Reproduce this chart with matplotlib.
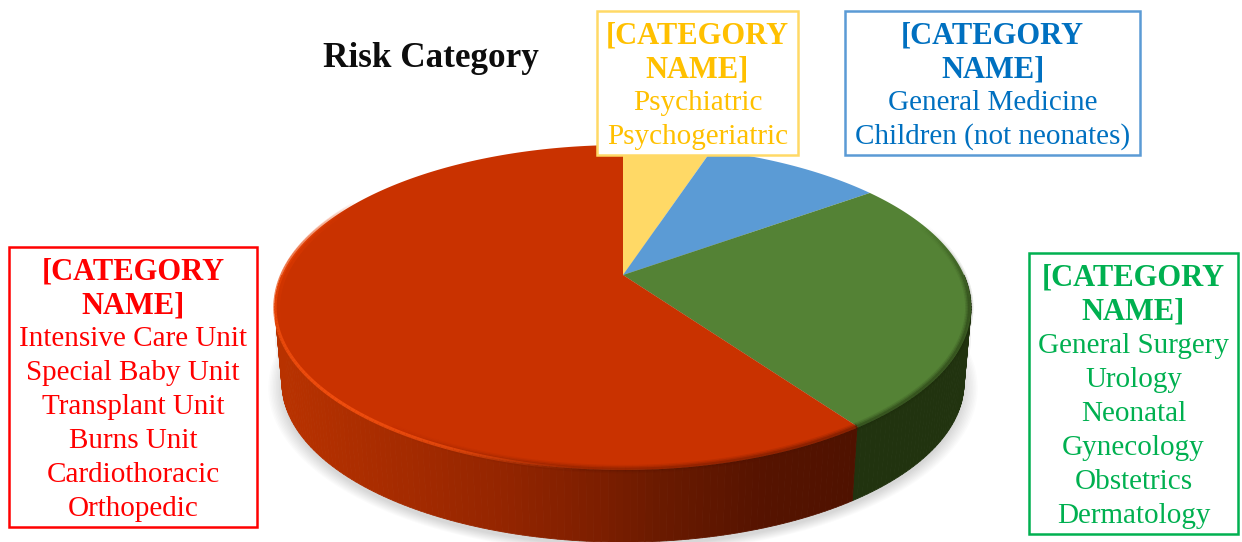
# Risk category pie, drawn as a tilted 3D disc
import numpy as np
import matplotlib
matplotlib.use('Agg')
import matplotlib.pyplot as plt
from matplotlib.collections import LineCollection
from matplotlib.patches import Rectangle

# Data
categories = ['Psychiatric', 'General', 'Surgical', 'Intensive']
shares = [5, 10, 25.2, 59.8]
top_colors = ['#FFD966', '#5B9BD5', '#548235', '#C93200']

title = 'Risk Category'
header = ['[CATEGORY', 'NAME]']
yellow_lines = ['Psychiatric', 'Psychogeriatric']
blue_lines = ['General Medicine', 'Children (not neonates)']
green_lines = ['General Surgery', 'Urology', 'Neonatal', 'Gynecology', 'Obstetrics', 'Dermatology']
red_lines = ['Intensive Care Unit', 'Special Baby Unit', 'Transplant Unit', 'Burns Unit',
             'Cardiothoracic', 'Orthopedic']

# Disc geometry in pixels
CX, CY = 623, 275
RX, RY = 341, 156
PERSP = 0.2
WALL = 76
FONT = 'Liberation Serif'


def rim(t, scale=1.0, dy=0.0):
    # t is degrees clockwise from north, returns picture coordinates
    u, v = np.sin(np.radians(t)), np.cos(np.radians(t))
    return (CX + scale * RX * u / (1 + PERSP * v),
            CY + dy - scale * RY * v / (1 + PERSP * v))


def rim_glow(start, stop, color, width, alpha_t, alpha_v, inset=1.0):
    # Edge line whose strength changes along the rim
    t = np.arange(start, stop + 1, 1.0)
    x, y = rim(t, inset)
    pts = np.column_stack([x, y])
    segs = np.stack([pts[:-1], pts[1:]], axis=1)
    rgba = np.tile(matplotlib.colors.to_rgba(color), (len(segs), 1))
    rgba[:, 3] = np.interp(t[:-1], alpha_t, alpha_v)
    ax.add_collection(LineCollection(segs, colors=rgba, linewidths=width, capstyle='butt', zorder=4))


fig = plt.figure(figsize=(12.42, 5.42), dpi=100)
ax = fig.add_axes([0, 0, 1, 1])
ax.set_xlim(0, 1242)
ax.set_ylim(542, 0)
ax.axis('off')

edges = np.cumsum([0] + shares) * 3.6
full = np.linspace(0, 360, 361)

# Soft shadow under the disc
for grow in np.linspace(1.0, 1.04, 10):
    sx, sy = rim(full, 0.98 * grow, WALL + 4)
    ax.fill(sx, sy, color='black', alpha=0.014, lw=0, zorder=1)
sx, sy = rim(full, 1.0, 30)
ax.fill(sx, sy, color='black', alpha=0.05, lw=0, zorder=1)

# Side wall, one strip per degree
wall_x = [283, 400, 500, 600, 660, 760, 858]
wall_r = [0xB8, 0xA5, 0x94, 0x7C, 0x6A, 0x56, 0x4F]
wall_g = [0x32, 0x2B, 0x25, 0x1E, 0x1A, 0x13, 0x12]
for a in np.arange(90, 270):
    t = np.array([a, a + 1.0])
    x1, y1 = rim(t)
    x2, y2 = rim(t[::-1], 0.98, WALL)
    if a + 0.5 < edges[3]:
        col = '#21330F'
    else:
        mx = x1.mean()
        col = (np.interp(mx, wall_x, wall_r) / 255, np.interp(mx, wall_x, wall_g) / 255, 0)
    ax.fill(np.r_[x1, x2], np.r_[y1, y2], facecolor=col, edgecolor=col, lw=0.6, zorder=2)

# Top face
for i in range(len(shares)):
    t = np.linspace(edges[i], edges[i + 1], 200)
    x, y = rim(t)
    ax.fill(np.r_[CX, x], np.r_[CY, y], color=top_colors[i], lw=0, zorder=3)

# Bevel along the edge of the top face
for w, al in [(6, 0.12), (4, 0.2), (2, 0.3)]:
    rim_glow(edges[2] + 15, edges[3], '#1C2C0C', w, [edges[2] + 15, edges[2] + 45], [0, al], inset=0.995)
    rim_glow(edges[3], 215, '#4F1200', w, [edges[3], 190, 215], [al, al * 0.6, 0], inset=0.995)
rim_glow(185, 300, '#F5500F', 2.4, [185, 205, 225, 250, 285, 300], [0, 0.7, 0.9, 0.75, 0.4, 0])
rim_glow(250, 300, '#E03A00', 5, [250, 275, 300], [0, 0.5, 0], inset=0.995)


def label_box(left, top, right, bottom, edge, text_color, body, first_base):
    ax.add_patch(Rectangle((left, top), right - left, bottom - top, facecolor='white',
                           edgecolor=edge, lw=1.8, zorder=5))
    cx = (left + right) / 2
    for i, line in enumerate(header + body):
        ax.text(cx, first_base + i * 34 + (1 if i < 2 else 0), line, color=text_color, family=FONT,
                fontsize=22 if i < 2 else 21,
                fontweight='bold' if i < 2 else 'normal',
                ha='center', va='baseline', zorder=6)


label_box(597, 11, 798, 155, '#FFD966', '#FFC000', yellow_lines, 42)
label_box(845, 11, 1140, 155, '#5B9BD5', '#0070C0', blue_lines, 42)
label_box(1029, 253, 1238, 534, '#00B050', '#00B050', green_lines, 285)
label_box(9, 247, 257, 527, '#FF0000', '#FF0000', red_lines, 278)

ax.text(431, 67, title, color='#0D0D0D', family=FONT, fontsize=25.3, fontweight='bold',
        ha='center', va='baseline', zorder=6)

fig.savefig('out.png', dpi=100)
